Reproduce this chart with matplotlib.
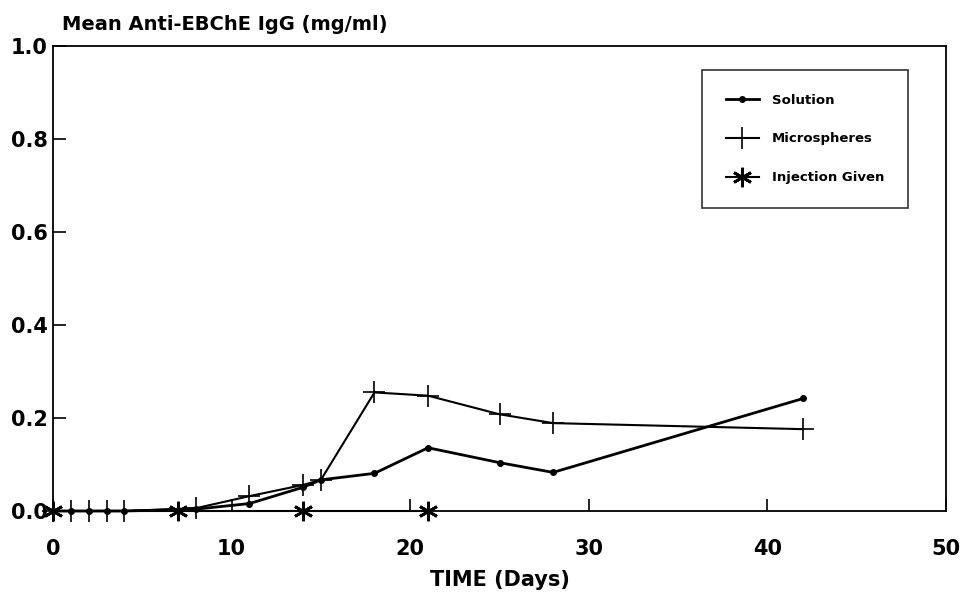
import matplotlib.pyplot as plt
import numpy as np

plt.rcParams['font.family'] = ['DejaVu Sans']
plt.rcParams['font.weight'] = 'bold'

# mean anti-EBChE IgG (mg/ml) by day
days = [0, 1, 2, 3, 4, 8, 11, 14, 15, 18, 21, 25, 28, 42]
solution = [0, 0, 0, 0, 0, 0.004, 0.016, 0.051, 0.067, 0.081, 0.136, 0.104, 0.083, 0.242]
microspheres = [0, 0, 0, 0, 0, 0.006, 0.032, 0.056, 0.067, 0.255, 0.248, 0.208, 0.189, 0.176]
injection_days = [0, 7, 14, 21]
injection_vals = [0, 0, 0, 0]

fig = plt.figure(figsize=(9.65, 5.96), dpi=100)
ax = fig.add_axes([53 / 965, 1 - 511 / 596, 893 / 965, 465 / 596])

ax.plot(days, solution, color='black', lw=2.0, marker='o', ms=4,
        label='Solution', clip_on=False, zorder=3)
ax.plot(days, microspheres, color='black', lw=1.5, marker='+', ms=16, mew=1.2,
        label='Microspheres', clip_on=False, zorder=3)
ax.plot(injection_days, injection_vals, color='black', lw=1.5,
        marker=(6, 2, 0), ms=14, mew=2.0, label='Injection Given',
        clip_on=False, zorder=4)

ax.set_xlim(0, 50)
ax.set_ylim(0, 1.0)
ax.set_xticks([0, 10, 20, 30, 40, 50])
ax.set_yticks([0, 0.2, 0.4, 0.6, 0.8, 1.0])
ax.set_yticklabels(['0.0', '0.2', '0.4', '0.6', '0.8', '1.0'])
ax.tick_params(direction='in', length=9, width=1.2, labelsize=15)
ax.tick_params(axis='x', pad=20)
ax.tick_params(axis='y', pad=4)
for s in ax.spines.values():
    s.set_linewidth(1.3)

ax.set_xlabel('TIME (Days)', fontsize=15, fontweight='bold', labelpad=8)
fig.text(62 / 965, 1 - 25 / 596, 'Mean Anti-EBChE IgG (mg/ml)', fontsize=14,
         fontweight='bold', va='center', ha='left')

leg = ax.legend(loc='upper right', bbox_to_anchor=(908 / 965, 1 - 70 / 596),
                bbox_transform=fig.transFigure, frameon=True, fancybox=False,
                edgecolor='black', fontsize=9.5, handlelength=2.5,
                borderpad=1.8, labelspacing=1.95, handletextpad=1.0,
                borderaxespad=0)
leg.get_frame().set_linewidth(1.2)
for t in leg.get_texts():
    t.set_fontweight('bold')

fig.savefig('out.png', dpi=100)
